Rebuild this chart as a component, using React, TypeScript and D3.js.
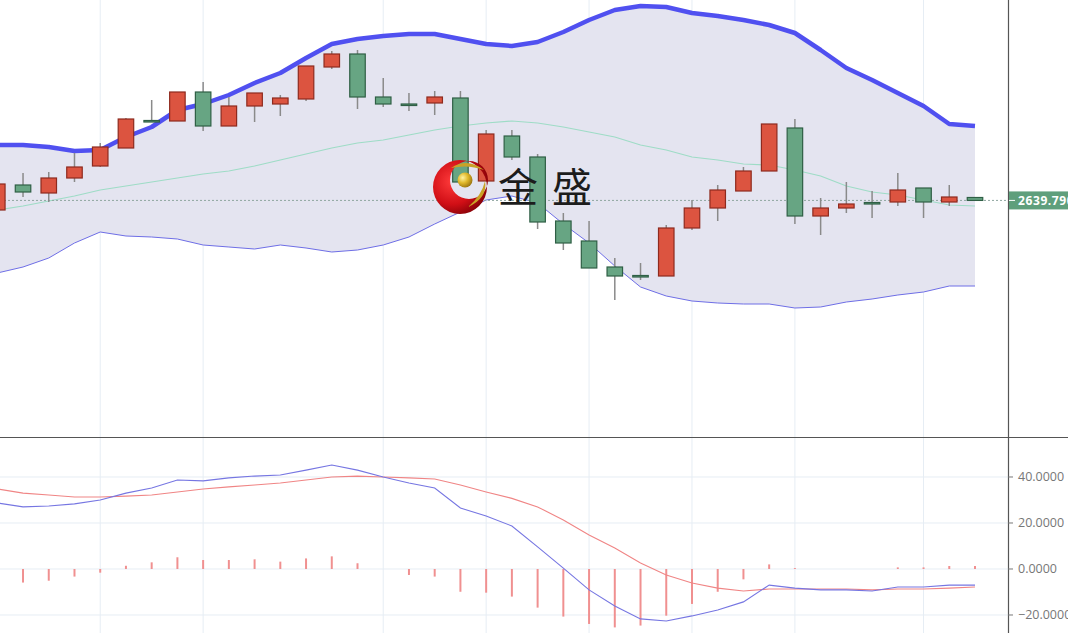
import React from "react";
import * as d3 from "d3";

const opens = [2635, 2647.5, 2643.5, 2651, 2657, 2666, 2679.75, 2679.5, 2694, 2677, 2687, 2688, 2690.5, 2706.5, 2713, 2691.5, 2688, 2688.5, 2691, 2649.5, 2672, 2661.5, 2629.5, 2619.5, 2606.5, 2602.25, 2602, 2626, 2636, 2644.5, 2654.5, 2676, 2632, 2636, 2638.75, 2639, 2646, 2639, 2641.25];
const highs = [2650, 2653.5, 2654, 2663.5, 2668.5, 2681, 2690, 2694, 2699, 2691.5, 2693.5, 2692.5, 2707, 2714.5, 2715, 2701, 2693.5, 2694.5, 2694.5, 2675, 2675, 2663, 2633.5, 2629.5, 2611, 2608.5, 2627.5, 2640, 2647.5, 2656.5, 2678, 2680.5, 2641, 2649, 2644.5, 2653.5, 2646, 2647.5, 2641.5];
const lows = [2634, 2641.5, 2639, 2649, 2656.5, 2666, 2679.25, 2679.5, 2674.5, 2677, 2679, 2682, 2689.5, 2705.5, 2685.5, 2686.5, 2684.5, 2682.5, 2647, 2649.5, 2660, 2625.5, 2615, 2606, 2590, 2600, 2602, 2625, 2629.5, 2644.5, 2654.5, 2628, 2622.5, 2633.5, 2631, 2637, 2631, 2637, 2639.5];
const closes = [2648, 2644, 2651, 2656.5, 2666.5, 2680.5, 2679.25, 2694, 2677, 2687, 2693.5, 2691, 2707, 2713, 2691.5, 2688, 2687.75, 2691.5, 2649, 2673, 2661.5, 2629, 2618.5, 2606, 2602, 2601.75, 2626, 2636, 2645, 2654.5, 2678, 2632, 2636, 2638, 2638.25, 2645, 2639, 2641.5, 2639.79];

const bollUpper = [2667.5, 2667.5, 2666.5, 2664.5, 2665, 2671.5, 2676.5, 2685, 2688, 2692.5, 2698.5, 2703.5, 2711, 2718, 2720.5, 2722, 2723, 2723, 2720.5, 2718, 2717, 2719, 2724, 2730, 2735, 2737, 2736.5, 2733.5, 2732, 2730, 2727.5, 2723.5, 2715, 2706, 2700, 2693.5, 2687, 2678, 2677];
const bollMid = [2635, 2637, 2639.5, 2642, 2645, 2647, 2649, 2651, 2653, 2654.5, 2657, 2660, 2663, 2666, 2668.5, 2670, 2672.5, 2675, 2677, 2678.5, 2679.5, 2678.5, 2676.5, 2674, 2671.5, 2667.5, 2665, 2661.5, 2660, 2658, 2657.5, 2655, 2652, 2647, 2644, 2642.5, 2640, 2637.5, 2637];
const bollLower = [2603.5, 2606.5, 2611, 2618.5, 2624, 2622, 2621.5, 2620.5, 2617.5, 2616.5, 2615.5, 2617.5, 2616, 2614, 2615, 2617.5, 2621.5, 2628, 2634, 2640, 2642, 2638.5, 2628, 2618.5, 2607, 2596.5, 2592, 2589.5, 2588.5, 2588, 2588, 2586, 2586.5, 2589, 2590.5, 2592.5, 2594, 2597, 2597];

const dif = [28.7, 27.0, 27.4, 28.3, 30.0, 33.0, 35.2, 38.7, 38.3, 39.6, 40.4, 40.9, 43.0, 45.2, 43.0, 40.0, 37.4, 35.2, 26.5, 23.0, 18.7, 9.6, 0.4, -9.1, -16.1, -21.7, -22.6, -20.4, -17.8, -14.3, -7.0, -8.3, -9.1, -9.1, -9.6, -7.8, -7.8, -7.0, -7.0];
const dea = [34.8, 33.0, 32.2, 31.3, 31.3, 31.7, 32.2, 33.5, 34.8, 35.7, 36.5, 37.4, 38.7, 40.0, 40.4, 40.0, 39.6, 39.1, 36.5, 33.5, 30.7, 27.0, 21.3, 14.8, 9.1, 2.6, -2.6, -6.1, -8.3, -9.6, -8.7, -8.7, -8.7, -8.7, -9.1, -8.7, -8.7, -8.3, -7.8];
const hist = [-6.1, -5.9, -5.1, -3.3, -1.6, 1.4, 2.9, 5.1, 3.9, 3.9, 4.2, 3.2, 4.6, 5.5, 2.5, 0, -2.6, -3.3, -9.9, -10.3, -12.0, -16.8, -20.7, -23.9, -25.4, -24.6, -20.3, -15.2, -9.9, -4.5, 2.0, 0.4, 0, 0, 0, 0.7, 0.7, 1.3, 1.3];

const gridIdx = [4, 8, 15, 19, 23, 27, 31, 36];
const macdTicks = [40, 20, 0, -20];
const lastPrice = 2639.79;
const lastLabel = "2639.790";
const brandText = "金盛";

const W = 1068;
const H = 633;
const AXIS_X = 1008;
const MAIN_BOTTOM = 437;

export default function App() {
  const n = closes.length;
  const x = d3.scaleLinear().domain([0, n - 1]).range([-2.7, 975]);
  const y = d3.scaleLinear().domain([2521.5, 2740]).range([MAIN_BOTTOM, 0]);
  const ym = d3.scaleLinear().domain([-27.83, 57.39]).range([H, MAIN_BOTTOM]);
  const idx = d3.range(n);
  const bw = 15.5;

  const area = d3.area<number>().x((i) => x(i)).y0((i) => y(bollLower[i])).y1((i) => y(bollUpper[i]));
  const lineOf = (arr: number[], sc: d3.ScaleLinear<number, number>) =>
    d3.line<number>().x((i) => x(i)).y((i) => sc(arr[i]))(idx) || "";
  const fmt = d3.format(".4f");

  return (
    <div style={{ position: "fixed", left: 0, top: 0 }}>
      <svg width={W} height={H} style={{ display: "block", background: "#fff" }}>
        <defs>
          <clipPath id="mainClip">
            <rect x={0} y={0} width={AXIS_X} height={MAIN_BOTTOM} />
          </clipPath>
          <clipPath id="macdClip">
            <rect x={0} y={MAIN_BOTTOM} width={AXIS_X} height={H - MAIN_BOTTOM} />
          </clipPath>
          <radialGradient id="redG" cx="0.35" cy="0.4" r="0.7">
            <stop offset="0" stopColor="#ff3b3b" />
            <stop offset="0.6" stopColor="#d10f16" />
            <stop offset="1" stopColor="#7d0006" />
          </radialGradient>
          <radialGradient id="goldG" cx="0.35" cy="0.35" r="0.7">
            <stop offset="0" stopColor="#fff3a0" />
            <stop offset="0.5" stopColor="#e0b82a" />
            <stop offset="1" stopColor="#9a7410" />
          </radialGradient>
        </defs>

        {/* grid */}
        {gridIdx.map((g) => (
          <line key={"vg" + g} x1={x(g)} x2={x(g)} y1={0} y2={H} stroke="#e6edf4" strokeWidth={1} />
        ))}
        {macdTicks.map((t) => (
          <line key={"hg" + t} x1={0} x2={AXIS_X} y1={ym(t)} y2={ym(t)} stroke="#e6edf4" strokeWidth={1} />
        ))}

        {/* main pane */}
        <g clipPath="url(#mainClip)">
          <path d={area(idx) || ""} fill="#e4e4f0" />
          <path d={lineOf(bollMid, y)} fill="none" stroke="#9edcc6" strokeWidth={1.2} />
          <path d={lineOf(bollLower, y)} fill="none" stroke="#6e6ee6" strokeWidth={1} />
          <path d={lineOf(bollUpper, y)} fill="none" stroke="#5050f0" strokeWidth={4.5} strokeLinejoin="round" />
          <line x1={0} x2={AXIS_X} y1={y(lastPrice)} y2={y(lastPrice)} stroke="#8fa6a0" strokeWidth={1} strokeDasharray="2,2" />
          {idx.map((i) => {
            const up = closes[i] >= opens[i];
            const top = y(Math.max(opens[i], closes[i]));
            const bot = y(Math.min(opens[i], closes[i]));
            const h = Math.max(bot - top, 1.5);
            const cx = x(i);
            return (
              <g key={"c" + i}>
                <line x1={cx} x2={cx} y1={y(highs[i])} y2={y(lows[i])} stroke="#8a8a8a" strokeWidth={1.5} />
                <rect
                  x={cx - bw / 2}
                  y={top}
                  width={bw}
                  height={h}
                  fill={up ? "#dc5440" : "#67a583"}
                  stroke={up ? "#8e2a1e" : "#2f5f45"}
                  strokeWidth={1.2}
                />
              </g>
            );
          })}
        </g>

        {/* logo */}
        <g>
          <path
            d="M433,187 a27,27 0 1,0 54,0 a27,27 0 1,0 -54,0 Z M450,180 a19,19 0 1,0 38,0 a19,19 0 1,0 -38,0 Z"
            fill="url(#redG)"
            fillRule="evenodd"
          />
          <path d="M451,168 Q467,157 484,170 Q468,164 451,168 Z" fill="#c9a227" />
          <path d="M485,181 Q488,198 468,207 Q482,195 485,181 Z" fill="#c9a227" />
          <circle cx={465} cy={180} r={7.5} fill="url(#goldG)" />
          <text x={498} y={202} fontSize={40} fontFamily="'Noto Sans CJK SC', sans-serif" fill="#1c1c1c" letterSpacing={14}>
            {brandText}
          </text>
        </g>

        {/* macd pane */}
        <g clipPath="url(#macdClip)">
          {idx.map((i) => (
            <line key={"h" + i} x1={x(i)} x2={x(i)} y1={ym(0)} y2={ym(hist[i])} stroke="#f09090" strokeWidth={2} />
          ))}
          <path d={lineOf(dea, ym)} fill="none" stroke="#f08585" strokeWidth={1.1} />
          <path d={lineOf(dif, ym)} fill="none" stroke="#7676e2" strokeWidth={1.1} />
        </g>

        {/* axes / separators */}
        <line x1={0} x2={W} y1={MAIN_BOTTOM + 0.5} y2={MAIN_BOTTOM + 0.5} stroke="#555" strokeWidth={1.2} />
        <line x1={AXIS_X + 0.5} x2={AXIS_X + 0.5} y1={0} y2={H} stroke="#555" strokeWidth={1.2} />
        {macdTicks.map((t) => (
          <g key={"t" + t}>
            <line x1={AXIS_X} x2={AXIS_X + 5} y1={ym(t)} y2={ym(t)} stroke="#777" strokeWidth={1} />
            <text x={AXIS_X + 10} y={ym(t) + 4.5} fontSize={12.5} fontFamily="'Open Sans', sans-serif" fill="#777">
              {fmt(t)}
            </text>
          </g>
        ))}

        {/* last price label */}
        <rect x={AXIS_X + 1} y={y(lastPrice) - 9} width={W - AXIS_X} height={18} fill="#5f9f7c" />
        <line x1={AXIS_X + 1} x2={AXIS_X + 7} y1={y(lastPrice)} y2={y(lastPrice)} stroke="#fff" strokeWidth={1} />
        <text x={AXIS_X + 10} y={y(lastPrice) + 4.5} fontSize={12} fontWeight="bold" fontFamily="'Open Sans', sans-serif" fill="#fff" letterSpacing={0.6}>
          {lastLabel}
        </text>
      </svg>
    </div>
  );
}
